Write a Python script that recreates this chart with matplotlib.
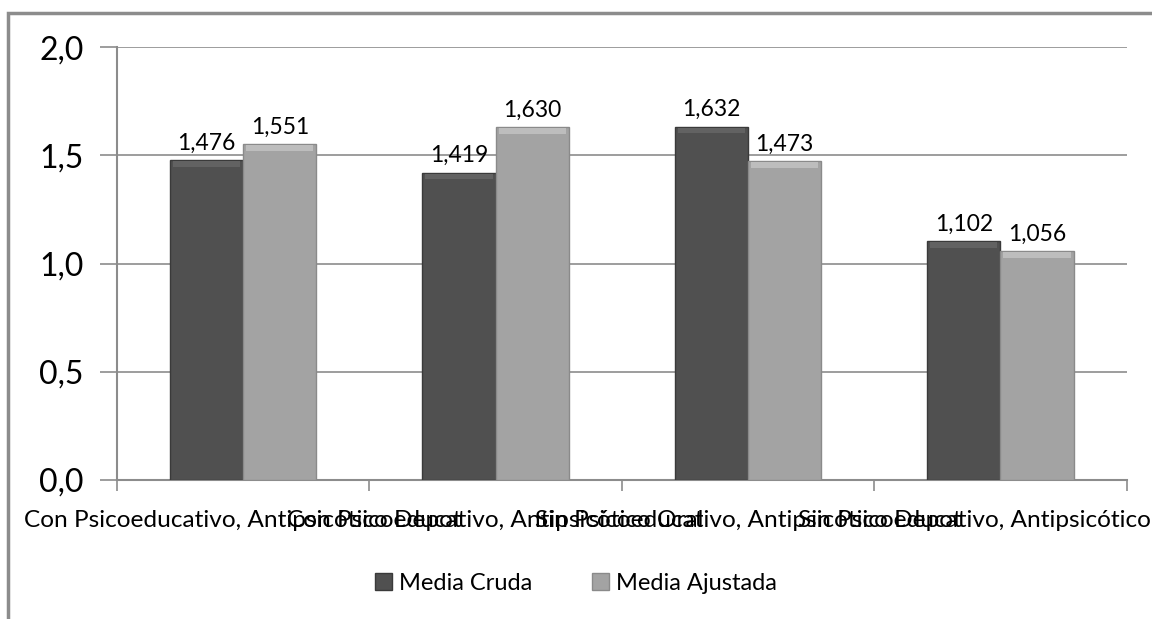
import matplotlib.pyplot as plt
import numpy as np
from matplotlib.patches import Rectangle

plt.rcParams['font.family'] = ['Lato', 'DejaVu Sans']

# Data
categories = ["Con Psicoeducativo, Antipsicótico Depot",
              "Con Psicoeducativo, Antipsicótico Oral",
              "Sin Psicoeducativo, Antipsicótico Depot",
              "Sin Psicoeducativo, Antipsicótico Oral"]
media_cruda = [1.476, 1.419, 1.632, 1.102]
media_ajustada = [1.551, 1.630, 1.473, 1.056]
y_ticks = [0.0, 0.5, 1.0, 1.5, 2.0]

fig = plt.figure(figsize=(11.52, 6.19), dpi=100)
ax = fig.add_axes([0.1016, 0.2246, 0.8764, 0.6994])

# outer chart frame (cut at right and bottom like the reference)
fig.patches.append(Rectangle((8 / 1152, -0.05), 1.2, 1 - 13 / 619 + 0.05,
                             transform=fig.transFigure, fill=False,
                             edgecolor="#8c8c8c", linewidth=2.5))

x = np.arange(len(categories))
w = 0.29
dark = "#505050"
light = "#a3a3a3"

b1 = ax.bar(x - w / 2, media_cruda, w, color=dark, edgecolor="#3a3a3a",
            linewidth=1, label="Media Cruda", zorder=3)
b2 = ax.bar(x + w / 2, media_ajustada, w, color=light, edgecolor="#8a8a8a",
            linewidth=1, label="Media Ajustada", zorder=3)

# simple bevel: lighter strip on top of each bar
for bars, top in ((b1, "#626262"), (b2, "#bdbdbd")):
    for r in bars:
        ax.add_patch(Rectangle((r.get_x() + 0.012, r.get_height() - 0.03),
                               r.get_width() - 0.024, 0.026, color=top,
                               zorder=4, linewidth=0))

for bars, vals in ((b1, media_cruda), (b2, media_ajustada)):
    for r, v in zip(bars, vals):
        ax.text(r.get_x() + r.get_width() / 2, v + 0.03,
                f"{v:.3f}".replace(".", ","), ha="center", va="bottom",
                fontsize=16.5)

ax.set_xlim(-0.5, len(categories) - 0.5)
ax.set_ylim(0, 2.0)
ax.set_yticks(y_ticks)
ax.set_yticklabels([f"{t:.1f}".replace(".", ",") for t in y_ticks], fontsize=23)
ax.yaxis.grid(True, color="#8c8c8c", linewidth=1.2, zorder=0)
ax.tick_params(axis="y", length=12, color="#8c8c8c", width=1.2, pad=12)

ax.set_xticks(np.arange(-0.5, len(categories)), minor=False)
ax.set_xticklabels([])
ax.tick_params(axis="x", length=8, color="#8c8c8c", width=1.2)
for i, c in enumerate(categories):
    ax.text(i, -0.14, c, ha="center", va="top", fontsize=17.6,
            clip_on=False)

for s in ("top", "right"):
    ax.spines[s].set_visible(False)
for s in ("left", "bottom"):
    ax.spines[s].set_color("#8c8c8c")
    ax.spines[s].set_linewidth(1.5)

fig.legend(handles=[b1, b2], loc="center", bbox_to_anchor=(0.5, 1 - 583 / 619),
           ncol=2, frameon=False, fontsize=17, handlelength=0.75,
           handleheight=0.75, columnspacing=2.5, handletextpad=0.3)

fig.savefig("out.png", dpi=100)
